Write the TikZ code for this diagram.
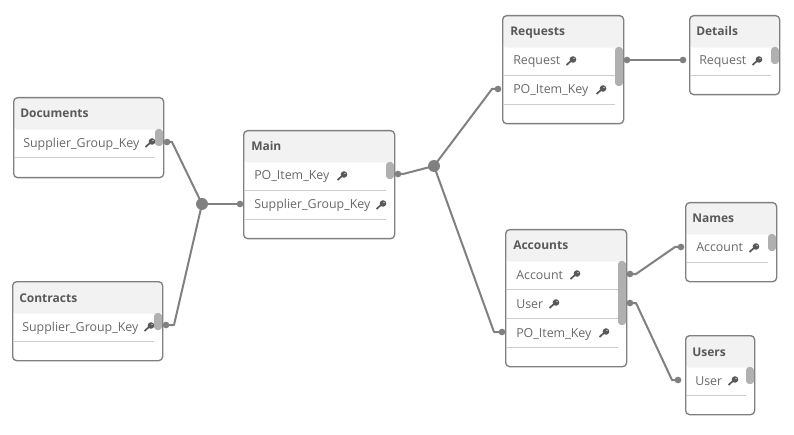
\documentclass[tikz,border=0pt]{standalone}
\usepackage{fontspec}
\setmainfont{Open Sans}
\begin{document}
\begin{tikzpicture}[x=0.75pt,y=-0.75pt]
\definecolor{headgray}{HTML}{F2F2F2}
\definecolor{framegray}{HTML}{808080}
\definecolor{linegray}{HTML}{CCCCCC}
\definecolor{thumbgray}{HTML}{B0B0B0}
\definecolor{textgray}{HTML}{6A6A6A}
\definecolor{titlegray}{HTML}{595959}
\tikzset{tablebox/.style 2 args = {shape=rectangle,draw=framegray,line width=1pt,fill=white,rounded corners=3pt,anchor=north west,inner sep=0pt,minimum width=#1*0.75pt,minimum height=#2*0.75pt,
  path picture={\fill[headgray] (path picture bounding box.north west) rectangle ([yshift=-24pt]path picture bounding box.north east);}}}
\tikzset{tabletitle/.style = {anchor=base west,inner sep=0pt,font=\bfseries\fontsize{9}{11}\selectfont,text=titlegray}}
\tikzset{field/.style = {anchor=base west,inner sep=0pt,font=\fontsize{9.3}{11}\selectfont,text=textgray}}
\tikzset{rowline/.style = {draw=linegray,line width=0.6pt}}
\tikzset{thumb/.style = {fill=thumbgray,rounded corners=2.5pt}}
\tikzset{pin/.style = {shape=circle,fill=framegray,inner sep=0pt,minimum size=5pt}}
\tikzset{hub/.style = {shape=circle,fill=framegray,inner sep=0pt,minimum size=9pt}}
\tikzset{edge/.style = {draw=framegray,line width=1.5pt,line join=round}}
\tikzset{keyicon/.pic = {\draw[titlegray,line width=1.3pt] (-4.5,4) -- (0.5,-0.5);\fill[titlegray,even odd rule] (2,-1.5) circle (3.3) (3,-2.5) circle (0.8);}}
\useasboundingbox (0,0) rectangle (794,435);

% Table frames
\node[tablebox={150}{80}] (documents) at (13,97) {};
\node[tablebox={150}{79}] (contracts) at (12,281) {};
\node[tablebox={151}{108}] (main) at (243,130) {};
\node[tablebox={121}{108}] (requests) at (502,15) {};
\node[tablebox={90}{79}] (details) at (689,15) {};
\node[tablebox={121}{137}] (accounts) at (505,229) {};
\node[tablebox={91}{79}] (names) at (685,202) {};
\node[tablebox={69}{79}] (users) at (685,335) {};

% Titles
\node[tabletitle] (documentsT) at (20,118) {Documents};
\node[tabletitle] (contractsT) at (19,302) {Contracts};
\node[tabletitle] (mainT) at (251,151) {Main};
\node[tabletitle] (requestsT) at (510,36) {Requests};
\node[tabletitle] (detailsT) at (696,36) {Details};
\node[tabletitle] (accountsT) at (513,250) {Accounts};
\node[tabletitle] (namesT) at (692,223) {Names};
\node[tabletitle] (usersT) at (692,356) {Users};

% Row lines
\draw[rowline] (14,157) -- (155,157);
\draw[rowline] (13,341) -- (154,341);
\draw[rowline] (244,190) -- (386,190);
\draw[rowline] (244,219) -- (386,219);
\draw[rowline] (503,75) -- (615,75);
\draw[rowline] (503,104) -- (615,104);
\draw[rowline] (690,75) -- (771,75);
\draw[rowline] (506,289) -- (618,289);
\draw[rowline] (506,318) -- (618,318);
\draw[rowline] (506,347) -- (618,347);
\draw[rowline] (686,262) -- (768,262);
\draw[rowline] (686,395) -- (746,395);

% Fields
\node[field] (docKey) at (23,147) {Supplier\_Group\_Key};
\node[field] (conKey) at (22,331) {Supplier\_Group\_Key};
\node[field] (mainPo) at (254,180) {PO\_Item\_Key};
\node[field] (mainSup) at (254,209) {Supplier\_Group\_Key};
\node[field] (reqRequest) at (513,65) {Request};
\node[field] (reqPo) at (513,94) {PO\_Item\_Key};
\node[field] (detRequest) at (699,65) {Request};
\node[field] (accAccount) at (516,279) {Account};
\node[field] (accUser) at (516,308) {User};
\node[field] (accPo) at (516,337) {PO\_Item\_Key};
\node[field] (namAccount) at (696,252) {Account};
\node[field] (useUser) at (695,385) {User};

% Keys
\pic at (150,143) {keyicon};
\pic at (149,327) {keyicon};
\pic at (342,176) {keyicon};
\pic at (381,205) {keyicon};
\pic at (571,61) {keyicon};
\pic at (601,90) {keyicon};
\pic at (757,61) {keyicon};
\pic at (575,275) {keyicon};
\pic at (554,304) {keyicon};
\pic at (604,333) {keyicon};
\pic at (754,248) {keyicon};
\pic at (733,381) {keyicon};

% Scroll thumbs
\fill[thumb] (155,129) rectangle (163,146);
\fill[thumb] (154,313) rectangle (162,330);
\fill[thumb] (386,162) rectangle (394,179);
\fill[thumb] (615,47) rectangle (623,86);
\fill[thumb] (771,47) rectangle (779,64);
\fill[thumb] (618,261) rectangle (626,325);
\fill[thumb] (768,234) rectangle (776,251);
\fill[thumb] (746,367) rectangle (754,384);

% Pins and hubs
\node[pin] (docR) at (167,142) {};
\node[pin] (conR) at (166,325) {};
\node[hub] (hubL) at (202,204) {};
\node[pin] (mainL) at (240,204) {};
\node[pin] (mainR) at (398,174) {};
\node[hub] (hubR) at (434,166) {};
\node[pin] (reqL) at (498,89) {};
\node[pin] (accL) at (502,332) {};
\node[pin] (reqR) at (627,60) {};
\node[pin] (detL) at (683,60) {};
\node[pin] (accR) at (630,274) {};
\node[pin] (accS) at (630,303) {};
\node[pin] (namL) at (681,247) {};
\node[pin] (useL) at (678,380) {};

\draw[edge] (docR.center) -- ++(5,0) -- (hubL.center);
\draw[edge] (conR.center) -- ++(8,0) -- (hubL.center);
\draw[edge] (hubL.center) -- (mainL.center);
\draw[edge] (mainR.center) -- ++(5,0) -- (hubR.center);
\draw[edge] (hubR.center) -- (492,89) -- (reqL.center);
\draw[edge] (hubR.center) -- (494,332) -- (accL.center);
\draw[edge] (reqR.center) -- (detL.center);
\draw[edge] (accR.center) -- ++(6,0) -- (675,247) -- (namL.center);
\draw[edge] (accS.center) -- ++(6,0) -- (672,380) -- (useL.center);

\end{tikzpicture}
\end{document}
